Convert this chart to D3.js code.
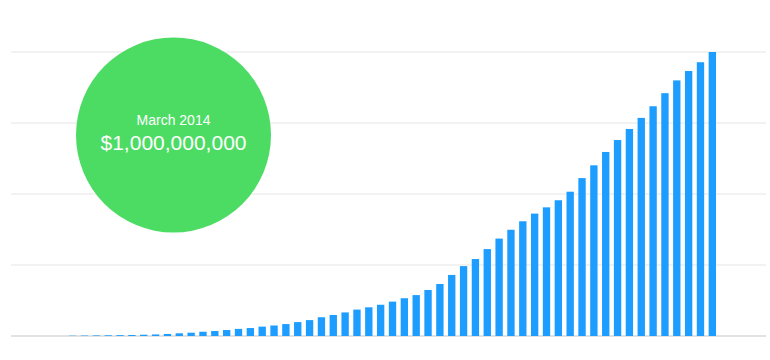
<!DOCTYPE html>
<html>
<head>
<meta charset="utf-8">
<script src="https://cdnjs.cloudflare.com/ajax/libs/d3/7.8.5/d3.min.js"></script>
<style>
  body { margin: 0; background: #fff; }
  svg { display: block; }
</style>
</head>
<body>
<div id="panel1"></div>
<script>
// monthly amount, in millions of dollars
var months = d3.range(55).map(function(i) { return "m" + i; });
var amounts = [1, 1.5, 2, 2.5, 3, 3.5, 4.5, 5.5, 7, 9.5,
  11.6, 15, 17.6, 21, 25, 28, 33, 37, 42, 49,
  56, 66, 74, 83, 93, 101, 110, 121, 133, 144,
  162, 183, 215, 246, 271, 306, 343, 374, 404, 431,
  453, 478, 508, 556, 601, 648, 690, 729, 768, 809,
  855, 900, 933, 964, 1000];
var gridValues = [0, 250, 500, 750, 1000];
var milestoneLabel = "March 2014",
    milestoneValue = "$1,000,000,000";

var data = months.map(function(m, i) { return {month: m, amount: amounts[i]}; });

var W = 770, H = 360;

var svg = d3.select("#panel1")
    .append("svg")
    .attr("width", W)
    .attr("height", H);

var x = d3.scaleBand()
    .domain(months)
    .range([69, 716])
    .paddingInner(0.38)
    .paddingOuter(0);

var y = d3.scaleLinear()
    .domain([0, 1000])
    .range([336, 52]);

// horizontal grid
svg.selectAll(".horizontalGrid").data(gridValues).enter()
    .append("line")
    .attr("class", "horizontalGrid")
    .attr("x1", 11)
    .attr("x2", 766)
    .attr("y1", function(d) { return y(d); })
    .attr("y2", function(d) { return y(d); })
    .attr("stroke", function(d) { return d === 0 ? "#e2e2e2" : "#e6e6e6"; })
    .attr("stroke-width", function(d) { return d === 0 ? 2 : 1.2; });

svg.selectAll(".bar")
    .data(data)
    .enter()
    .append("rect")
    .attr("class", "bar")
    .attr("x", function(d) { return x(d.month); })
    .attr("width", x.bandwidth())
    .attr("y", function(d) { return y(d.amount); })
    .attr("height", function(d) { return y(0) - y(d.amount); })
    .attr("fill", "#1c9dff");

// milestone bubble
var bubble = svg.append("g")
    .attr("transform", "translate(173.5,135)");

bubble.append("circle")
    .attr("r", 97.5)
    .attr("fill", "#4cdc64");

bubble.append("text")
    .attr("y", -10.5)
    .attr("text-anchor", "middle")
    .attr("font-family", "'Helvetica Neue', Helvetica, 'Liberation Sans', Arial, sans-serif")
    .attr("font-size", 14)
    .attr("fill", "#fff")
    .text(milestoneLabel);

bubble.append("text")
    .attr("y", 15)
    .attr("text-anchor", "middle")
    .attr("font-family", "'Helvetica Neue', Helvetica, 'Liberation Sans', Arial, sans-serif")
    .attr("font-size", 21)
    .attr("fill", "#fff")
    .text(milestoneValue);
</script>
</body>
</html>
